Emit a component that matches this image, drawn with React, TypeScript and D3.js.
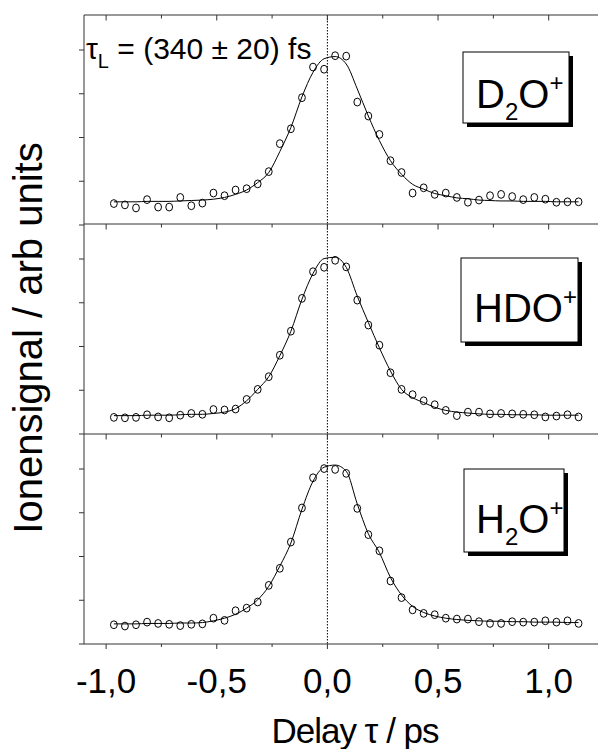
import React from 'react';
import * as d3 from 'd3';

// Delay values (ps) of the measured points
const delays = [-0.965, -0.915, -0.865, -0.815, -0.765, -0.715, -0.665, -0.615, -0.565, -0.515,
  -0.465, -0.415, -0.365, -0.315, -0.265, -0.215, -0.165, -0.115, -0.065, -0.015,
  0.035, 0.085, 0.135, 0.185, 0.235, 0.285, 0.335, 0.385, 0.435, 0.485,
  0.535, 0.585, 0.635, 0.685, 0.735, 0.785, 0.835, 0.885, 0.935, 0.985,
  1.035, 1.085, 1.135];

const d2oSignal = [0.49, 0.46, 0.39, 0.58, 0.41, 0.41, 0.63, 0.44, 0.50, 0.73,
  0.67, 0.80, 0.83, 0.94, 1.22, 1.86, 2.20, 2.91, 3.61, 3.56,
  3.87, 3.86, 2.81, 2.49, 2.07, 1.47, 1.20, 0.73, 0.85, 0.70,
  0.73, 0.63, 0.52, 0.57, 0.67, 0.70, 0.65, 0.58, 0.63, 0.59,
  0.52, 0.53, 0.53];
const d2oFit = [0.53, 0.53, 0.53, 0.54, 0.54, 0.54, 0.55, 0.56, 0.57, 0.59,
  0.63, 0.70, 0.80, 0.97, 1.20, 1.68, 2.23, 2.93, 3.49, 3.80,
  3.85, 3.68, 3.11, 2.49, 1.93, 1.47, 1.16, 0.93, 0.82, 0.72,
  0.67, 0.62, 0.60, 0.57, 0.56, 0.55, 0.55, 0.54, 0.54, 0.54,
  0.53, 0.53, 0.53];

const hdoSignal = [0.38, 0.37, 0.38, 0.44, 0.39, 0.37, 0.43, 0.47, 0.45, 0.56,
  0.55, 0.57, 0.79, 1.02, 1.31, 1.80, 2.35, 3.10, 3.71, 3.81,
  3.97, 3.82, 3.06, 2.49, 2.03, 1.40, 1.02, 0.90, 0.76, 0.67,
  0.54, 0.42, 0.50, 0.50, 0.46, 0.47, 0.46, 0.45, 0.44, 0.39,
  0.41, 0.44, 0.39];
const hdoFit = [0.42, 0.42, 0.42, 0.43, 0.43, 0.43, 0.44, 0.45, 0.45, 0.47,
  0.50, 0.58, 0.76, 1.02, 1.31, 1.79, 2.35, 3.08, 3.67, 4.01,
  4.04, 3.81, 3.15, 2.55, 1.97, 1.44, 1.02, 0.83, 0.72, 0.61,
  0.54, 0.50, 0.48, 0.46, 0.45, 0.45, 0.44, 0.44, 0.44, 0.43,
  0.43, 0.43, 0.43];

const h2oSignal = [0.44, 0.41, 0.44, 0.50, 0.47, 0.45, 0.42, 0.45, 0.46, 0.59,
  0.54, 0.76, 0.82, 0.96, 1.34, 1.73, 2.33, 3.11, 3.80, 4.01,
  3.99, 3.90, 3.10, 2.50, 2.13, 1.44, 1.06, 0.78, 0.70, 0.67,
  0.59, 0.57, 0.57, 0.51, 0.47, 0.47, 0.51, 0.50, 0.50, 0.53,
  0.50, 0.53, 0.47];
const h2oFit = [0.46, 0.46, 0.46, 0.47, 0.47, 0.47, 0.48, 0.48, 0.49, 0.53,
  0.59, 0.68, 0.82, 1.01, 1.32, 1.78, 2.31, 3.08, 3.72, 4.04,
  4.09, 3.95, 3.20, 2.52, 2.09, 1.52, 1.12, 0.86, 0.72, 0.64,
  0.59, 0.56, 0.54, 0.53, 0.52, 0.52, 0.51, 0.51, 0.50, 0.50,
  0.50, 0.49, 0.49];

const xTickValues = [-1.0, -0.5, 0.0, 0.5, 1.0];
const xTickLabels = ['-1,0', '-0,5', '0,0', '0,5', '1,0'];
const xMinorTicks = [-0.75, -0.25, 0.25, 0.75];
const yTickValues = [0, 1, 2, 3, 4];

const xTitle = 'Delay \u03C4 / ps';
const yTitle = 'Ionensignal / arb units';

const FONT = "'Liberation Sans', Arial, Helvetica, sans-serif";

const W = 598;
const H = 749;
const left = 84;
const plotRight = 604;
const panelTops = [15, 224, 434];
const panelH = 210;

const x = d3.scaleLinear().domain([-1.1, 1.25]).range([left, plotRight]);

type Panel = { signal: number[]; fit: number[]; box: { x: number; y: number; w: number; h: number }; label: React.ReactNode };

const panels: Panel[] = [
  {
    signal: d2oSignal, fit: d2oFit,
    box: { x: 463, y: 52, w: 106, h: 71 },
    label: (
      <text x={476} y={108} fontSize={40} fontFamily={FONT}>
        <tspan>D</tspan>
        <tspan fontSize={24} dy={12}>2</tspan>
        <tspan dy={-12}>O</tspan>
        <tspan fontSize={24} dy={-17}>+</tspan>
      </text>
    ),
  },
  {
    signal: hdoSignal, fit: hdoFit,
    box: { x: 461, y: 258, w: 117, h: 84 },
    label: (
      <text x={474} y={322} fontSize={40} fontFamily={FONT}>
        <tspan>HDO</tspan>
        <tspan fontSize={24} dy={-17}>+</tspan>
      </text>
    ),
  },
  {
    signal: h2oSignal, fit: h2oFit,
    box: { x: 464, y: 469, w: 100, h: 83 },
    label: (
      <text x={476} y={533} fontSize={40} fontFamily={FONT}>
        <tspan>H</tspan>
        <tspan fontSize={24} dy={12}>2</tspan>
        <tspan dy={-12}>O</tspan>
        <tspan fontSize={24} dy={-17}>+</tspan>
      </text>
    ),
  },
];

const frameColor = '#333';

function PanelView({ p, top }: { p: Panel; top: number }) {
  const y = d3.scaleLinear().domain([0, 4.8]).range([top + panelH, top]);
  const line = d3.line<number>()
    .x((_, i) => x(delays[i]))
    .y((d) => y(d))
    .curve(d3.curveMonotoneX);
  return (
    <g>
      {/* top ticks pointing inward */}
      {xTickValues.map((t) => (
        <line key={'tM' + t} x1={x(t)} x2={x(t)} y1={top} y2={top + 5.5} stroke={frameColor} strokeWidth={1} />
      ))}
      {xMinorTicks.map((t) => (
        <line key={'tm' + t} x1={x(t)} x2={x(t)} y1={top} y2={top + 3.5} stroke={frameColor} strokeWidth={1} />
      ))}
      {/* left ticks pointing outward */}
      {yTickValues.map((v) => (
        <line key={'y' + v} x1={left - 5} x2={left} y1={y(v)} y2={y(v)} stroke={frameColor} strokeWidth={1} />
      ))}
      <path d={line(p.fit) || ''} fill="none" stroke="#000" strokeWidth={1} />
      {p.signal.map((v, i) => (
        <ellipse key={i} cx={x(delays[i])} cy={y(v)} rx={3.4} ry={3.9} fill="none" stroke="#000" strokeWidth={1} />
      ))}
      {/* label box with shadow */}
      <rect x={p.box.x + 4} y={p.box.y + 4} width={p.box.w} height={p.box.h} fill="#000" />
      <rect x={p.box.x} y={p.box.y} width={p.box.w} height={p.box.h} fill="#fff" stroke="#000" strokeWidth={1} />
      {p.label}
    </g>
  );
}

export default function App() {
  const bottom = panelTops[2] + panelH;
  return (
    <svg width={W} height={H} style={{ position: 'absolute', left: 0, top: 0, background: '#fff' }}>
      <rect x={0} y={0} width={W} height={H} fill="#fff" />
      {/* zero-delay dotted line */}
      <line x1={x(0)} x2={x(0)} y1={panelTops[0]} y2={bottom} stroke="#000" strokeWidth={1} strokeDasharray="1.5,1.5" />
      {panels.map((p, i) => (
        <PanelView key={i} p={p} top={panelTops[i]} />
      ))}
      {/* frame */}
      {panelTops.map((t) => (
        <line key={'h' + t} x1={left} x2={W} y1={t} y2={t} stroke={frameColor} strokeWidth={1} />
      ))}
      <line x1={left} x2={W} y1={bottom} y2={bottom} stroke={frameColor} strokeWidth={1} />
      <line x1={left} x2={left} y1={panelTops[0]} y2={bottom} stroke={frameColor} strokeWidth={1} />
      {/* bottom axis ticks */}
      {xTickValues.map((t) => (
        <line key={'bM' + t} x1={x(t)} x2={x(t)} y1={bottom} y2={bottom + 5} stroke={frameColor} strokeWidth={1} />
      ))}
      {xMinorTicks.map((t) => (
        <line key={'bm' + t} x1={x(t)} x2={x(t)} y1={bottom} y2={bottom + 3} stroke={frameColor} strokeWidth={1} />
      ))}
      {xTickValues.map((t, i) => (
        <text key={'l' + t} x={x(t)} y={692.5} fontSize={35} fontFamily={FONT} textAnchor="middle">{xTickLabels[i]}</text>
      ))}
      <text x={355} y={743} fontSize={35} fontFamily={FONT} textAnchor="middle" letterSpacing={-1}>{xTitle}</text>
      <text transform="translate(42,338) rotate(-90)" fontSize={40} fontFamily={FONT} textAnchor="middle">{yTitle}</text>
      {/* pulse width annotation */}
      <text x={86} y={58.5} fontSize={30} fontFamily={FONT}>
        <tspan>{'\u03C4'}</tspan>
        <tspan fontSize={20} dy={9}>L</tspan>
        <tspan dy={-9}>{' = (340 \u00B1 20) fs'}</tspan>
      </text>
    </svg>
  );
}
